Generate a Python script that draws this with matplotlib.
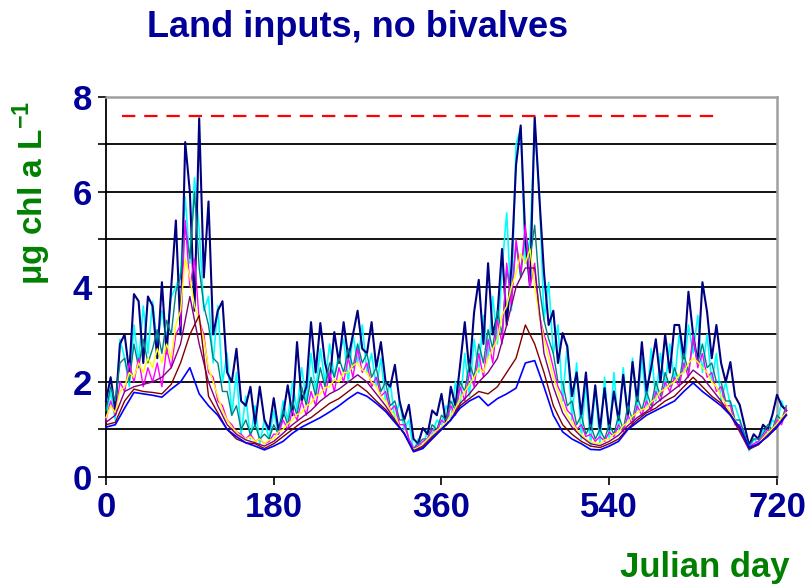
# Chlorophyll a, land inputs without bivalves, several model runs

import numpy as np
import matplotlib.pyplot as plt

# Data
# most runs sampled every 5 days, the smoother low runs every 10 days
days5 = np.arange(0, 731, 5)
days10 = np.arange(0, 731, 10)

navy = [1.6, 2.1, 1.4, 2.8, 3.0, 2.2, 3.85, 3.7, 2.4, 3.8, 3.6, 2.5, 4.1, 2.6, 4.0,
        5.4, 3.0, 7.05, 6.0, 3.5, 7.55, 4.2, 5.8, 3.0, 3.5, 3.7, 2.2, 2.0, 2.7, 1.6,
        1.5, 1.9, 1.1, 1.9, 1.2, 1.0, 1.66, 1.0, 1.3, 1.93, 1.3, 2.84, 1.6, 1.9, 3.26,
        2.2, 3.24, 2.4, 2.0, 3.05, 2.4, 3.26, 2.5, 3.0, 3.5, 2.7, 2.6, 3.26, 2.3, 2.84,
        2.0, 1.9, 2.36, 1.6, 1.2, 1.52, 0.8, 0.7, 1.03, 0.9, 1.4, 1.3, 1.75,
        1.1, 1.9, 1.5, 2.36, 3.26, 2.2, 3.47, 4.15, 2.8, 4.5, 3.0, 3.4, 4.8, 3.2, 4.4,
        6.57, 7.4, 5.0, 4.0, 7.58, 5.9, 4.3, 3.2, 3.5, 2.4, 3.03, 2.74, 1.7, 2.2, 1.3,
        2.2, 1.0, 1.93, 1.0, 1.87, 1.0, 1.8, 1.2, 2.15, 1.3, 2.42, 1.6, 2.84, 1.8, 2.3,
        2.9, 2.0, 3.0, 2.2, 3.2, 3.2, 2.5, 3.9, 3.0, 2.4, 4.1, 3.47, 2.5, 3.2, 2.4,
        2.0, 2.42, 1.7, 1.52, 1.1, 0.67, 0.9, 0.8, 1.1, 1.0, 1.3, 1.73, 1.5, 1.4]

cyan = [1.3, 1.8, 1.2, 2.9, 2.5, 1.9, 3.2, 2.4, 3.6, 2.6, 3.7, 2.8, 3.5, 2.9, 3.8,
        4.0, 4.3, 5.9, 4.5, 6.3, 5.2, 3.5, 3.8, 2.4, 3.6, 2.0, 2.6, 1.3, 2.2, 0.9,
        1.7, 0.8, 1.5, 0.7, 1.2, 0.8, 1.4, 0.9, 1.6, 1.2, 2.0, 1.4, 2.3, 1.6, 2.6,
        1.8, 2.7, 2.0, 2.8, 2.1, 2.6, 2.9, 2.0, 3.0, 2.4, 3.2, 2.2, 2.6, 1.9, 2.5,
        1.6, 2.0, 1.2, 1.6, 1.0, 1.2, 0.55, 0.8, 0.6, 1.0, 0.9, 1.2, 1.1,
        1.5, 1.2, 2.0, 1.5, 2.6, 1.7, 2.9, 2.2, 3.4, 2.5, 3.8, 2.8, 4.4, 5.56, 3.5,
        7.0, 7.35, 4.5, 5.0, 7.4, 6.0, 3.3, 4.1, 2.6, 3.2, 1.6, 2.8, 1.2, 2.4, 0.8,
        2.0, 0.65, 1.9, 0.7, 2.1, 0.8, 2.2, 1.0, 2.3, 1.2, 2.5, 1.4, 2.5, 1.5, 2.7,
        1.6, 2.6, 1.9, 2.8, 2.0, 3.0, 2.2, 3.2, 2.6, 3.4, 2.2, 3.0, 2.0, 2.6, 1.6,
        2.0, 1.5, 1.5, 1.2, 0.9, 0.55, 0.8, 0.7, 1.0, 0.9, 1.2, 1.1, 1.6, 1.3]

teal = [1.4, 1.9, 1.6, 2.4, 2.5, 2.0, 2.8, 2.3, 2.9, 2.4, 2.7, 3.1, 2.6, 3.3, 3.0,
        3.9, 4.2, 5.3, 4.6, 6.0, 4.4, 3.6, 3.2, 2.5, 2.4, 1.8, 1.8, 1.3, 1.5, 1.0,
        1.2, 0.9, 1.1, 0.8, 0.9, 0.8, 1.1, 0.9, 1.4, 1.1, 1.6, 1.3, 1.9, 1.5, 2.1,
        1.7, 2.3, 1.9, 2.4, 2.1, 2.5, 2.2, 2.7, 2.3, 2.8, 2.4, 2.6, 2.1, 2.3, 1.8,
        2.0, 1.5, 1.6, 1.2, 1.2, 0.8, 0.6, 0.7, 0.8, 0.8, 1.1, 1.0, 1.3,
        1.2, 1.6, 1.4, 2.0, 1.8, 2.4, 2.1, 2.8, 2.4, 3.1, 2.7, 3.5, 3.0, 4.4, 3.8,
        4.9, 4.2, 5.2, 4.6, 5.3, 4.0, 3.3, 2.9, 2.6, 2.0, 2.0, 1.5, 1.6, 1.1, 1.3,
        0.9, 1.1, 0.8, 1.0, 0.8, 1.1, 0.9, 1.3, 1.0, 1.5, 1.2, 1.7, 1.4, 1.8, 1.5,
        2.0, 1.7, 2.2, 1.9, 2.3, 2.0, 2.6, 2.2, 2.9, 2.4, 2.8, 2.3, 2.4, 2.0, 2.0,
        1.6, 1.6, 1.2, 1.2, 0.9, 0.65, 0.8, 0.8, 0.9, 1.1, 1.0, 1.3, 1.2, 1.5]

magenta = [1.2, 1.6, 1.3, 2.0, 1.8, 2.4, 2.0, 2.5, 1.9, 2.3, 2.0, 2.4, 1.9, 2.7, 2.3,
           3.0, 3.2, 5.4, 4.0, 4.6, 3.3, 3.0, 2.2, 2.1, 1.6, 1.5, 1.2, 1.1, 0.95, 0.9,
           0.8, 0.9, 0.75, 0.8, 0.7, 0.75, 0.9, 0.9, 1.2, 1.0, 1.4, 1.2, 1.6, 1.3, 1.8,
           1.5, 2.0, 1.7, 2.2, 1.8, 2.3, 2.0, 2.5, 2.1, 2.7, 2.2, 2.4, 1.9, 2.1, 1.7,
           1.8, 1.4, 1.5, 1.1, 1.1, 0.8, 0.6, 0.65, 0.75, 0.8, 1.0, 0.95, 1.2,
           1.1, 1.5, 1.3, 1.9, 1.6, 2.2, 1.9, 2.6, 2.1, 2.9, 2.4, 3.3, 2.8, 4.5, 3.6,
           5.0, 4.3, 5.3, 4.0, 4.5, 3.4, 3.0, 2.7, 2.3, 1.9, 1.7, 1.4, 1.3, 1.0, 1.1,
           0.85, 0.9, 0.75, 0.85, 0.75, 0.95, 0.85, 1.1, 0.95, 1.3, 1.1, 1.5, 1.3, 1.6, 1.4,
           1.8, 1.6, 2.0, 1.8, 2.1, 1.9, 2.4, 2.1, 3.0, 2.3, 2.6, 2.1, 2.2, 1.8, 1.9,
           1.5, 1.5, 1.1, 1.1, 0.8, 0.62, 0.7, 0.75, 0.85, 1.0, 0.95, 1.2, 1.1, 1.45]

yellow = [1.25, 1.5, 1.35, 1.8, 1.9, 2.2, 2.1, 2.4, 2.2, 2.5, 2.3, 2.7, 2.4, 2.8, 2.5,
          3.2, 3.5, 4.6, 4.2, 3.6, 3.3, 2.9, 2.3, 2.0, 1.7, 1.4, 1.2, 1.05, 0.95, 0.85,
          0.8, 0.85, 0.75, 0.8, 0.7, 0.78, 0.8, 0.95, 1.0, 1.12, 1.2, 1.32, 1.35, 1.5, 1.55,
          1.7, 1.75, 1.88, 1.9, 2.05, 2.0, 2.2, 2.2, 2.35, 2.4, 2.25, 2.2, 2.0, 1.9, 1.7,
          1.6, 1.4, 1.3, 1.05, 0.95, 0.7, 0.58, 0.62, 0.68, 0.8, 0.88, 0.98, 1.05,
          1.15, 1.3, 1.45, 1.65, 1.8, 1.95, 2.1, 2.3, 2.2, 2.5, 2.7, 2.9, 3.4, 3.6, 4.0,
          4.3, 4.7, 4.5, 4.8, 4.0, 3.4, 2.9, 2.5, 2.1, 1.8, 1.5, 1.3, 1.15, 1.0, 0.9,
          0.8, 0.75, 0.72, 0.7, 0.78, 0.8, 0.9, 0.95, 1.08, 1.15, 1.28, 1.35, 1.42, 1.45, 1.58,
          1.65, 1.8, 1.85, 1.95, 2.0, 2.15, 2.2, 2.4, 2.5, 2.42, 2.3, 2.2, 2.0, 1.9, 1.7,
          1.55, 1.35, 1.2, 0.98, 0.8, 0.6, 0.65, 0.7, 0.82, 0.92, 1.02, 1.12, 1.25, 1.35]

purple = [1.15, 1.3, 1.8, 1.9, 1.95, 2.0, 2.1, 2.3, 2.8, 3.8, 2.8, 2.0, 1.5, 1.1, 0.9,
          0.78, 0.72, 0.65, 0.75, 0.92, 1.1, 1.25, 1.4, 1.6, 1.75, 1.85, 2.0, 2.15, 2.0, 1.75,
          1.5, 1.2, 0.9, 0.55, 0.65, 0.85, 1.02, 1.2, 1.55, 1.75, 2.0, 2.2, 2.5, 3.2, 4.0,
          4.4, 4.4, 2.6, 1.9, 1.35, 1.05, 0.85, 0.7, 0.66, 0.75, 0.88, 1.08, 1.25, 1.38, 1.55,
          1.7, 1.85, 2.0, 2.25, 2.1, 1.85, 1.6, 1.3, 0.95, 0.58, 0.68, 0.88, 1.08, 1.32]

maroon = [1.1, 1.15, 1.6, 1.85, 1.8, 1.78, 1.75, 1.95, 2.4, 3.0, 3.4, 1.7, 1.35, 1.0, 0.8,
          0.72, 0.7, 0.6, 0.7, 0.85, 1.0, 1.15, 1.25, 1.4, 1.55, 1.65, 1.8, 1.95, 1.8, 1.6,
          1.42, 1.18, 0.92, 0.55, 0.62, 0.82, 1.0, 1.2, 1.5, 1.65, 1.8, 1.75, 1.9, 2.2, 2.5,
          3.2, 2.8, 2.2, 1.5, 1.1, 0.9, 0.75, 0.65, 0.62, 0.7, 0.8, 1.02, 1.2, 1.35, 1.45,
          1.6, 1.7, 1.9, 2.1, 1.9, 1.7, 1.55, 1.32, 1.0, 0.6, 0.68, 0.87, 1.05, 1.3]

blue = [1.05, 1.1, 1.45, 1.78, 1.75, 1.72, 1.68, 1.85, 2.0, 2.3, 1.75, 1.5, 1.3, 1.0, 0.85,
        0.72, 0.65, 0.57, 0.65, 0.75, 0.92, 1.05, 1.15, 1.25, 1.37, 1.5, 1.65, 1.78, 1.7, 1.55,
        1.38, 1.15, 0.92, 0.53, 0.6, 0.8, 1.0, 1.2, 1.45, 1.6, 1.7, 1.5, 1.65, 1.75, 1.87,
        2.4, 2.45, 1.9, 1.3, 0.95, 0.8, 0.7, 0.58, 0.57, 0.65, 0.75, 1.0, 1.15, 1.3, 1.4,
        1.5, 1.6, 1.8, 1.98, 1.8, 1.65, 1.5, 1.3, 1.05, 0.62, 0.7, 0.85, 1.05, 1.3]

# reference level (red dashed)
ref_level = 7.6
ref_days = [17, 660]

xticks = [0, 180, 360, 540, 720]
yticks = [0, 1, 2, 3, 4, 5, 6, 7, 8]
ylabels = ["0", "", "2", "", "4", "", "6", "", "8"]

navy_txt = "#000099"
green_txt = "#008000"

plt.rcParams['font.family'] = ['Liberation Sans', 'DejaVu Sans']

fig = plt.figure(figsize=(8.06, 5.88), dpi=100)
ax = fig.add_axes([0.1315, 0.1888, 0.8325, 0.6463])

# horizontal grid lines
for v in yticks[1:-1]:
    ax.axhline(v, color="black", lw=1.3, zorder=1)

# model runs
ax.plot(days5, cyan, color="#00FFFF", lw=1.2, clip_on=False, zorder=2)
ax.plot(days5, navy, color="#000080", lw=1.5, clip_on=False, zorder=3)
ax.plot(days5, teal, color="#008080", lw=1.0, clip_on=False, zorder=3)
ax.plot(days5, magenta, color="#FF00FF", lw=1.0, clip_on=False, zorder=3)
ax.plot(days5, yellow, color="#FFFF00", lw=1.0, clip_on=False, zorder=3)
ax.plot(days10, purple, color="#800080", lw=1.0, clip_on=False, zorder=3)
ax.plot(days10, maroon, color="#800000", lw=1.0, clip_on=False, zorder=3)
ax.plot(days10, blue, color="#0000FF", lw=1.2, clip_on=False, zorder=3)

ax.plot(ref_days, [ref_level, ref_level], color="red", lw=1.6,
        dashes=(6, 4), zorder=4)

ax.set_xlim(0, 720)
ax.set_ylim(0, 8)
ax.set_xticks(xticks)
ax.set_yticks(yticks)
ax.set_yticklabels(ylabels)

for s in ["top", "right"]:
    ax.spines[s].set_color("#a0a0a0")
    ax.spines[s].set_linewidth(1.8)
for s in ["left", "bottom"]:
    ax.spines[s].set_color("black")
    ax.spines[s].set_linewidth(1.3)

ax.tick_params(axis="both", direction="out", length=6, width=1.2, color="black",
               labelsize=25, labelcolor=navy_txt, pad=4)
for lab in ax.get_xticklabels() + ax.get_yticklabels():
    lab.set_fontweight("bold")

fig.text(0.444, 0.953, "Land inputs, no bivalves", ha="center", va="center",
         fontsize=26, fontweight="bold", color=navy_txt)
fig.text(0.04, 0.672, r"$\mathregular{\mu}$g chl a L$^{\mathregular{-1}}$", rotation=90,
         ha="center", va="center", fontsize=24, fontweight="bold", color=green_txt)
fig.text(0.98, 0.035, "Julian day", ha="right", va="center",
         fontsize=25, fontweight="bold", color=green_txt)

plt.savefig("out.png", dpi=100)
